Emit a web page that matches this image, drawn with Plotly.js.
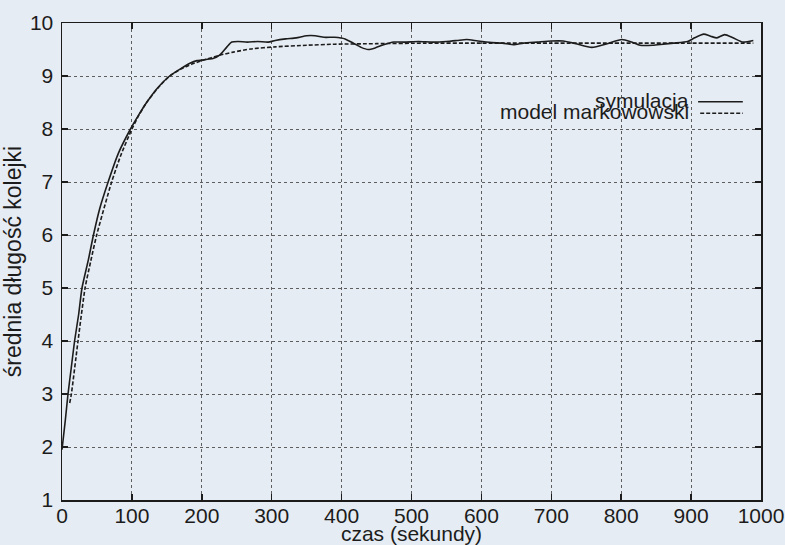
<!DOCTYPE html>
<html>
<head>
<meta charset="utf-8">
<script src="https://cdn.plot.ly/plotly-3.0.1.min.js"></script>
<style>
html,body{margin:0;padding:0;background:#e6ecf3;}
#chart{width:785px;height:545px;}
</style>
</head>
<body>
<div id="chart"></div>
<script>
// Series: symulacja (solid)
const simT = [0,4.7,8.6,13.3,18,23.8,28.6,37.7,45,54,66,80.6,98,110,121,137,154,170,183,193,200,210,216,226,236,243,252,265,280,295,305,320,335,350,362,375,390,405,418,428,438,448,460,475,490,510,530,550,565,579,595,615,630,646,660,680,700,717,735,758,780,801,815,827,845,860,875,895,905,918,928,937,948,960,974,989];
const simY = [1.95,2.5,3.0,3.5,4.0,4.5,5.0,5.53,6.0,6.5,7.0,7.54,8.0,8.27,8.5,8.78,9.0,9.14,9.24,9.29,9.30,9.32,9.33,9.40,9.55,9.64,9.65,9.64,9.65,9.64,9.67,9.70,9.72,9.76,9.76,9.73,9.73,9.70,9.61,9.54,9.50,9.53,9.59,9.64,9.64,9.65,9.64,9.65,9.67,9.69,9.66,9.63,9.62,9.59,9.62,9.64,9.66,9.66,9.61,9.54,9.61,9.69,9.64,9.58,9.58,9.60,9.62,9.65,9.72,9.79,9.75,9.72,9.78,9.72,9.64,9.67];

// Series: model markowowski (dashed)
const modT = [11,13.4,22.9,33,41,49.6,71,84,100,110,121,137,154,170,185,200,225,245,270,305,350,390,450,520,600,700,800,900,989];
const modY = [2.83,3.0,4.0,5.0,5.5,6.0,7.0,7.5,8.0,8.26,8.5,8.77,9.0,9.13,9.22,9.29,9.39,9.45,9.51,9.55,9.58,9.60,9.61,9.62,9.62,9.62,9.62,9.62,9.62];

const xTicks = [0,100,200,300,400,500,600,700,800,900,1000];
const yTicks = [1,2,3,4,5,6,7,8,9,10];
const seriesNames = ["symulacja","model markowowski"];
const xTitle = "czas (sekundy)";
const yTitle = "średnia długość kolejki";

const ink = "#1c1c1c";
const FONT = "Liberation Sans, Arial, Helvetica, sans-serif";

const traces = [
  {x: simT, y: simY, mode: "lines", name: seriesNames[0],
   line: {color: ink, width: 1.6, shape: "spline", smoothing: 0.6}, hoverinfo: "skip"},
  {x: modT, y: modY, mode: "lines", name: seriesNames[1],
   line: {color: ink, width: 1.6, dash: "4px,2px", shape: "spline", smoothing: 0.6}, hoverinfo: "skip"}
];

const axisCommon = {
  showline: true, linecolor: ink, linewidth: 1.5, mirror: "ticks",
  ticks: "inside", ticklen: 6, tickwidth: 1.5, tickcolor: ink,
  showgrid: true, gridcolor: "#5e5e5e", gridwidth: 1, griddash: "dot",
  zeroline: false, tickfont: {family: FONT, size: 21, color: ink}
};

const layout = {
  width: 785, height: 545,
  margin: {l: 62, r: 24, t: 23, b: 45},
  paper_bgcolor: "#e6ecf3", plot_bgcolor: "#e6ecf3",
  showlegend: false,
  font: {family: FONT, color: ink},
  xaxis: Object.assign({}, axisCommon, {
    range: [0, 1000], tickvals: xTicks, ticktext: xTicks.map(String),
    ticklabelstandoff: -4,
    title: {text: xTitle, font: {family: FONT, size: 21, color: ink}, standoff: 1}
  }),
  yaxis: Object.assign({}, axisCommon, {
    range: [1, 10], tickvals: yTicks, ticktext: yTicks.map(String),
    ticklabelstandoff: 3,
    title: {text: yTitle + "\u00a0\u00a0\u00a0\u00a0", font: {family: FONT, size: 23, color: ink}, standoff: 6}
  }),
  annotations: [
    {xref: "paper", yref: "paper", x: 0.9, y: 0.838, xanchor: "right", yanchor: "middle",
     text: seriesNames[0], showarrow: false, font: {family: FONT, size: 21, color: ink}},
    {xref: "paper", yref: "paper", x: 0.9, y: 0.815, xanchor: "right", yanchor: "middle",
     text: seriesNames[1], showarrow: false, font: {family: FONT, size: 21, color: ink}}
  ],
  shapes: [
    {type: "line", xref: "paper", yref: "paper", x0: 0.910, x1: 0.974, y0: 0.835, y1: 0.835,
     line: {color: ink, width: 1.6}},
    {type: "line", xref: "paper", yref: "paper", x0: 0.913, x1: 0.974, y0: 0.8107, y1: 0.8107,
     line: {color: ink, width: 1.6, dash: "4px,2px"}}
  ]
};

Plotly.newPlot("chart", traces, layout, {staticPlot: true, displayModeBar: false});
</script>
</body>
</html>
